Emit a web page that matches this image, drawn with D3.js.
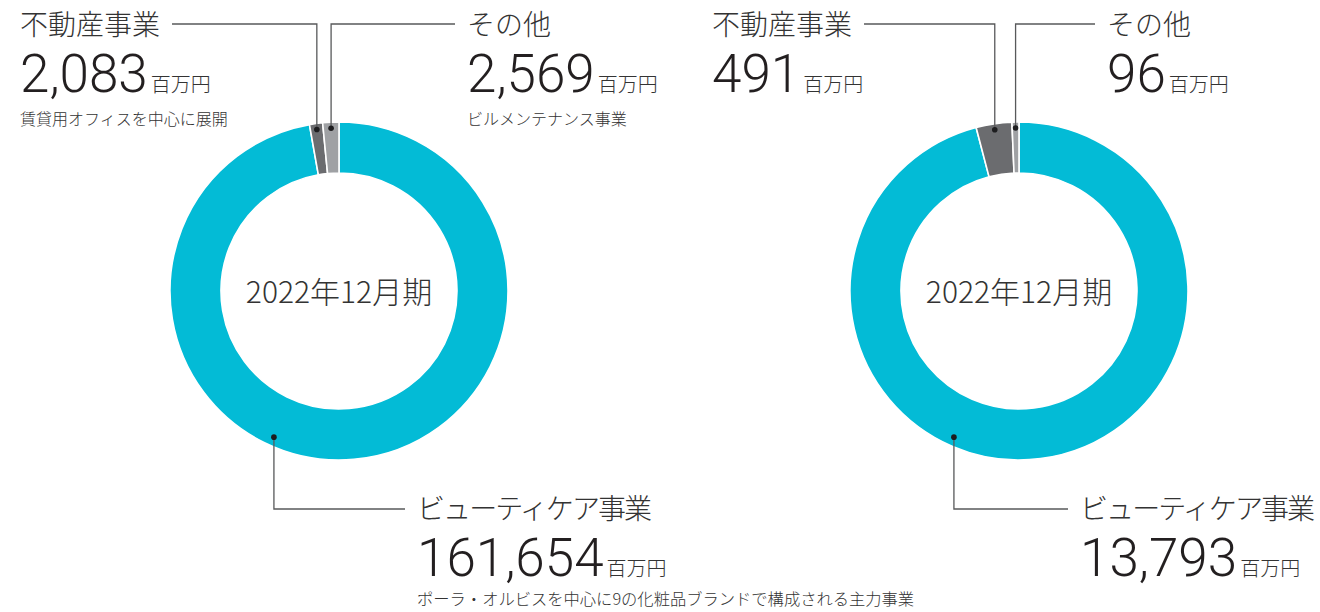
<!DOCTYPE html>
<html>
<head>
<meta charset="utf-8">
<script src="https://cdn.jsdelivr.net/npm/d3@7"></script>
<style>
  html, body { margin: 0; padding: 0; background: #fff; }
  svg text { font-family: "Noto Sans CJK JP", "Noto Sans", sans-serif; font-weight: 300; fill: #333; }
  .num { font-family: Roboto, "Noto Sans", sans-serif; font-weight: 300; fill: #231f20; }
</style>
</head>
<body>
<div id="app"></div>
<script>
// segments, clockwise from 12 o'clock
const segments = ["ビューティケア事業", "不動産事業", "その他"];
const segmentNotes = [
  "ポーラ・オルビスを中心に9の化粧品ブランドで構成される主力事業",
  "賃貸用オフィスを中心に展開",
  "ビルメンテナンス事業"
];
const unitLabel = "百万円";
const periods = ["2022年12月期", "2022年12月期"];
const leftValues = [161654, 2083, 2569];
const rightValues = [13793, 491, 96];
const colors = ["#03bbd6", "#6b6c6f", "#9fa1a4"];

const width = 1320, height = 612;
const outerR = 169, innerR = 118, dotR = 163;

const svg = d3.select("#app").append("svg")
    .attr("width", width)
    .attr("height", height);

const pie = d3.pie().sort(null).value(d => d);
const arc = d3.arc().innerRadius(innerR).outerRadius(outerR);
const dotArc = d3.arc().innerRadius(dotR).outerRadius(dotR);
const fmt = d3.format(",");

// per-chart placement of the donut and its callouts
const charts = [
  {values: leftValues, period: periods[0], cx: 339, notes: true,
   labelX: [417, 20, 467]},
  {values: rightValues, period: periods[1], cx: 1019, notes: false,
   labelX: [1080, 712, 1107]}
];
const cy = 291;
const topLineY = 24, bottomLineY = 509;
const beautyDotAngle = 204 * Math.PI / 180, beautyDotR = 160;
// katakana set tighter in the original typeface
const labelSpacing = [-1.9, 0, 0];

const drawCallout = (g, x, y, i, value, withNote) => {
    const t = g.append("g").attr("transform", `translate(${x},${y})`);
    t.append("text")
        .attr("y", 0)
        .style("font-size", "28px")
        .style("letter-spacing", labelSpacing[i] + "px")
        .text(segments[i]);
    const v = t.append("text").attr("y", 57);
    v.append("tspan").attr("class", "num")
        .style("font-size", "53px")
        .text(fmt(value));
    v.append("tspan")
        .attr("dx", 3)
        .style("font-size", "20px")
        .text(unitLabel);
    if (withNote) {
        t.append("text")
            .attr("y", i === 0 ? 86 : 90)
            .style("font-size", i === 0 ? "16.3px" : "16px")
            .text(segmentNotes[i]);
    }
    return t;
};

charts.forEach(c => {
    const g = svg.append("g");
    const donut = g.append("g").attr("transform", `translate(${c.cx},${cy})`);
    const arcs = pie(c.values);

    donut.selectAll("path.slice")
        .data(arcs)
        .join("path")
            .attr("class", "slice")
            .attr("d", arc)
            .attr("fill", (d, i) => colors[i])
            .attr("stroke", "#fff")
            .attr("stroke-width", 1.6);

    donut.append("text")
        .attr("text-anchor", "middle")
        .attr("y", 12)
        .style("font-size", "30px")
        .style("fill", "#333")
        .text(c.period);

    // leader lines
    const lines = g.append("g")
        .attr("fill", "none")
        .attr("stroke", "#58595b")
        .attr("stroke-width", 1.3);
    const dots = [];

    // beauty care: down and to the right
    const bp = d3.pointRadial(beautyDotAngle, beautyDotR);
    const bx = c.cx + bp[0], by = cy + bp[1];
    lines.append("path")
        .attr("d", `M${bx},${by}V${bottomLineY}H${c.labelX[0] - 12}`);
    dots.push([bx, by]);
    drawCallout(g, c.labelX[0], 519, 0, c.values[0], c.notes);

    // real estate: up and to the left
    const rp = dotArc.centroid(arcs[1]);
    const rx = c.cx + rp[0], ry = cy + rp[1];
    const rLabel = drawCallout(g, c.labelX[1], 35, 1, c.values[1], c.notes);
    const rEnd = c.labelX[1] + rLabel.select("text").node().getComputedTextLength() + 12;
    lines.append("path")
        .attr("d", `M${rx},${ry}V${topLineY}H${rEnd}`);
    dots.push([rx, ry]);

    // other: up and to the right
    const op = dotArc.centroid(arcs[2]);
    const ox = c.cx + op[0], oy = cy + op[1];
    lines.append("path")
        .attr("d", `M${ox},${oy}V${topLineY}H${c.labelX[2] - 12}`);
    dots.push([ox, oy]);
    drawCallout(g, c.labelX[2], 35, 2, c.values[2], c.notes);

    g.selectAll("circle.dot")
        .data(dots)
        .join("circle")
            .attr("class", "dot")
            .attr("cx", d => d[0])
            .attr("cy", d => d[1])
            .attr("r", 2.8)
            .attr("fill", "#1d1d1f");
});
</script>
</body>
</html>
